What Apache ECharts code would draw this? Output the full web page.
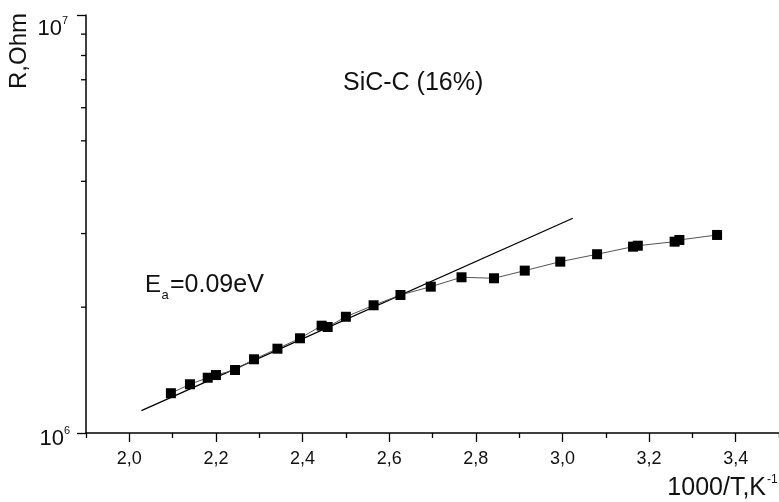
<!DOCTYPE html>
<html>
<head>
<meta charset="utf-8">
<script src="https://cdn.jsdelivr.net/npm/echarts@6/dist/echarts.min.js"></script>
<style>
html,body{margin:0;padding:0;background:#fff;}
#chart{width:779px;height:502px;}
</style>
</head>
<body>
<div id="chart"></div>
<script>
// ---- data ----
const xValues = [2.096, 2.140, 2.181, 2.200, 2.244, 2.288, 2.342, 2.394, 2.444, 2.458, 2.500, 2.564, 2.626, 2.696, 2.767, 2.842, 2.913, 2.995, 3.080, 3.163, 3.174, 3.259, 3.270, 3.357];
const rValues = [1.245e6, 1.308e6, 1.356e6, 1.376e6, 1.415e6, 1.501e6, 1.591e6, 1.685e6, 1.806e6, 1.793e6, 1.897e6, 2.021e6, 2.139e6, 2.239e6, 2.358e6, 2.345e6, 2.446e6, 2.570e6, 2.677e6, 2.791e6, 2.806e6, 2.869e6, 2.896e6, 2.977e6];
const fitX = [2.028, 3.024];
const fitR = [1.131e6, 3.264e6];
const xMajorTicks = [2.0, 2.2, 2.4, 2.6, 2.8, 3.0, 3.2, 3.4];
const xMinorTicks = [1.9, 2.1, 2.3, 2.5, 2.7, 2.9, 3.1, 3.3, 3.5];
const yMinorTicks = [2e6, 3e6, 4e6, 5e6, 6e6, 7e6, 8e6, 9e6];
const xMin = 1.9, xMax = 3.5, yMin = 1e6, yMax = 1e7;
const sampleLabel = 'SiC-C (16%)';
const energyLabel = ['E', 'a', '=0.09eV'];
const xTitle = ['1000/T,K', '-1'];
const yTitle = 'R,Ohm';

const FONT = 'Liberation Sans, Arial, sans-serif';
const chart = echarts.init(document.getElementById('chart'), null, {renderer: 'canvas'});

const mainData = xValues.map((x, i) => [x, rValues[i]]);
const fitData = fitX.map((x, i) => [x, fitR[i]]);
const yMinorData = yMinorTicks.map(v => [xMin, v]);

const yRich = {
  b: {fontSize: 22, fontFamily: FONT, color: '#111', lineHeight: 28, verticalAlign: 'middle'},
  s: {fontSize: 11, fontFamily: FONT, color: '#111', verticalAlign: 'top', lineHeight: 12}
};

const axisCommonY = {
  type: 'log', logBase: 10, min: yMin, max: yMax, position: 'left',
  splitLine: {show: false}, minorTick: {show: false}
};

const option = {
  animation: false,
  backgroundColor: '#fff',
  grid: {left: 86, right: 0, top: 15, bottom: 69, containLabel: false, outerBoundsMode: 'none'},
  xAxis: [
    {
      type: 'value', min: xMin, max: xMax, position: 'bottom',
      axisLine: {show: true, onZero: false, lineStyle: {color: '#000', width: 1.5}},
      axisTick: {show: true, customValues: xMajorTicks, length: 9, lineStyle: {color: '#000', width: 1.3}},
      axisLabel: {customValues: xMajorTicks, margin: 17, fontSize: 18, fontFamily: FONT, color: '#111',
        formatter: v => v.toFixed(1).replace('.', ',')},
      splitLine: {show: false}
    },
    {
      type: 'value', min: xMin, max: xMax, position: 'bottom',
      axisLine: {show: false},
      axisTick: {show: true, customValues: xMinorTicks, length: 5, lineStyle: {color: '#000', width: 1.3}},
      axisLabel: {show: false},
      splitLine: {show: false}
    }
  ],
  yAxis: [
    Object.assign({}, axisCommonY, {
      axisLine: {show: true, onZero: false, lineStyle: {color: '#000', width: 1.5}},
      axisTick: {show: true, length: 9, lineStyle: {color: '#000', width: 1.3}},
      axisLabel: {margin: 16, fontSize: 22, lineHeight: 28, fontFamily: FONT, color: '#111', rich: yRich, padding: [12, 0, 0, 0],
        formatter: v => Math.round(Math.log10(v)) === 6 ? '{b|10}{s|6}' : ''}
    }),
    Object.assign({}, axisCommonY, {
      axisLine: {show: false},
      axisTick: {show: false},
      axisLabel: {margin: 18, fontSize: 22, lineHeight: 28, fontFamily: FONT, color: '#111', rich: yRich, verticalAlign: 'top',
        formatter: v => Math.round(Math.log10(v)) === 7 ? '{b|10}{s|7}' : ''}
    })
  ],
  series: [
    {
      type: 'line', xAxisIndex: 0, yAxisIndex: 0, data: fitData,
      symbol: 'none', lineStyle: {color: '#000', width: 1.3}, z: 2, silent: true
    },
    {
      type: 'line', xAxisIndex: 0, yAxisIndex: 0, data: mainData,
      symbol: 'rect', symbolSize: 10, showAllSymbol: true,
      itemStyle: {color: '#000'},
      lineStyle: {color: '#555', width: 1}, z: 3, silent: true
    },
    {
      type: 'custom', xAxisIndex: 0, yAxisIndex: 0, data: yMinorData, clip: false, silent: true,
      renderItem: function (params, api) {
        const p = api.coord([api.value(0), api.value(1)]);
        return {type: 'line', shape: {x1: p[0] - 5, y1: p[1], x2: p[0], y2: p[1]},
          style: {stroke: '#000', lineWidth: 1.3}};
      }
    }
  ],
  graphic: [
    {type: 'text', x: 19, y: 51, rotation: Math.PI / 2,
      style: {text: yTitle, font: '24px ' + FONT, fill: '#111', align: 'center', verticalAlign: 'middle'}},
    {type: 'text', x: 343, y: 83.5,
      style: {text: sampleLabel, font: '25px ' + FONT, fill: '#111', align: 'left', verticalAlign: 'middle'}},
    {type: 'text', x: 145, y: 285,
      style: {text: energyLabel[0], font: '24px ' + FONT, fill: '#111', align: 'left', verticalAlign: 'middle'}},
    {type: 'text', x: 161.5, y: 295.5,
      style: {text: energyLabel[1], font: '13px ' + FONT, fill: '#111', align: 'left', verticalAlign: 'middle'}},
    {type: 'text', x: 170, y: 285,
      style: {text: energyLabel[2], font: '25px ' + FONT, fill: '#111', align: 'left', verticalAlign: 'middle'}},
    {type: 'text', x: 766, y: 488.3,
      style: {text: xTitle[0], font: '25px ' + FONT, fill: '#111', align: 'right', verticalAlign: 'middle'}},
    {type: 'text', x: 767, y: 479.5,
      style: {text: xTitle[1], font: '12px ' + FONT, fill: '#111', align: 'left', verticalAlign: 'middle'}}
  ]
};
chart.setOption(option);
</script>
</body>
</html>
